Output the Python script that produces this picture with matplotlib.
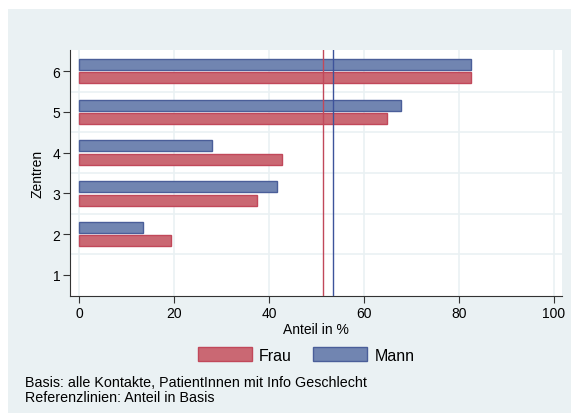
import matplotlib
matplotlib.use("Agg")
import matplotlib.pyplot as plt
from matplotlib.patches import Rectangle, Patch
import numpy as np

# data
zentren = [1, 2, 3, 4, 5, 6]
frau = [0, 19.3, 37.4, 42.7, 64.8, 82.6]
mann = [0, 13.4, 41.6, 28.0, 67.9, 82.5]
ref_frau = 51.4
ref_mann = 53.4

_BG = "#eaf1f3"
_RED_FILL = "#ca6873"
_RED_EDGE = "#c1485a"
_BLUE_FILL = "#7185b1"
_BLUE_EDGE = "#4a5e99"
_GRID = "#eaf1f3"

plt.rcParams["font.family"] = ["Liberation Sans", "DejaVu Sans"]

W, H = 571, 414
fig = plt.figure(figsize=(W / 100, H / 100), dpi=100, facecolor="white")
fig.patches.append(Rectangle((8 / W, 0), 1 - 8 / W, 1 - 10 / H,
                             transform=fig.transFigure, facecolor=_BG,
                             edgecolor="none", zorder=-10))

ax = fig.add_axes([70 / W, 1 - 297 / H, (562 - 70) / W, (297 - 51) / H])
ax.set_facecolor("white")

y = np.array(zentren)
mask = [v > 0 for v in mann]
ax.barh(y[mask] + 0.165, np.array(mann)[mask], height=0.27,
        color=_BLUE_FILL, edgecolor=_BLUE_EDGE, linewidth=1, zorder=3)
mask = [v > 0 for v in frau]
ax.barh(y[mask] - 0.165, np.array(frau)[mask], height=0.27,
        color=_RED_FILL, edgecolor=_RED_EDGE, linewidth=1, zorder=3)

ax.axvline(ref_frau, color=_RED_EDGE, linewidth=1, zorder=4)
ax.axvline(ref_mann, color="#3d539b", linewidth=1, zorder=4)

ax.set_xlim(-1.9, 101.7)
ax.set_ylim(0.48, 6.52)
ax.set_xticks([0, 20, 40, 60, 80, 100])
ax.set_yticks(zentren)
ax.set_yticks([1.5, 2.5, 3.5, 4.5, 5.5], minor=True)
ax.tick_params(axis="y", which="minor", length=0)
ax.grid(axis="x", which="major", color=_GRID, linewidth=1.2, zorder=0)
ax.grid(axis="y", which="minor", color=_GRID, linewidth=1.2, zorder=0)
ax.set_axisbelow(True)

ax.tick_params(axis="both", which="major", labelsize=10, length=5,
               width=0.8, color="#333333", labelcolor="black", pad=2)
ax.spines["top"].set_visible(False)
ax.spines["right"].set_visible(False)
ax.spines["left"].set_color("#333333")
ax.spines["bottom"].set_color("#333333")
ax.spines["left"].set_linewidth(0.8)
ax.spines["bottom"].set_linewidth(0.8)

ax.set_xlabel("Anteil in %", fontsize=10, labelpad=2)
ax.set_ylabel("Zentren", fontsize=10, labelpad=6)

handles = [Patch(facecolor=_RED_FILL, edgecolor=_RED_EDGE, label="Frau"),
           Patch(facecolor=_BLUE_FILL, edgecolor=_BLUE_EDGE, label="Mann")]
fig.legend(handles=handles, loc="center", bbox_to_anchor=(306 / W, 1 - 356 / H),
           ncol=2, frameon=False, fontsize=11.5, handlelength=3.4,
           handleheight=0.9, columnspacing=1.3, handletextpad=0.45)

fig.text(25 / W, 1 - 383 / H, "Basis: alle Kontakte, PatientInnen mit Info Geschlecht",
         fontsize=10.3, va="center", ha="left")
fig.text(25 / W, 1 - 398 / H, "Referenzlinien: Anteil in Basis",
         fontsize=10.3, va="center", ha="left")

fig.savefig("out.png", dpi=100, facecolor="white")
